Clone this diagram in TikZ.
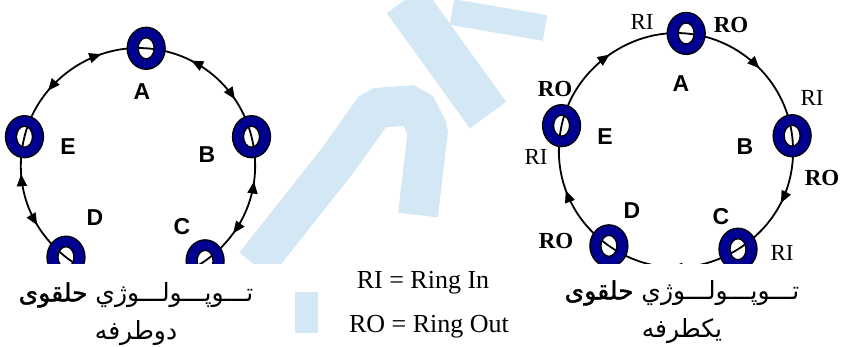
\documentclass[tikz,border=0pt]{standalone}
\usepackage{fontspec}
\setmainfont{Liberation Serif}
\newfontfamily\arialfont{Liberation Sans}
\newfontfamily\farsifont[Script=Arabic]{DejaVu Sans}
\newfontfamily\farsiheavy[Script=Arabic,FakeBold=1.6]{DejaVu Sans}
\TeXXeTstate=1
\usetikzlibrary{shapes.geometric,arrows.meta,decorations.markings,calc}
\pgfdeclarelayer{background}
\pgfsetlayers{background,main}
\definecolor{ringblue}{RGB}{0,0,145}
\definecolor{wmblue}{RGB}{212,231,245}

\begin{document}
\begin{tikzpicture}[x=1pt, y=1pt]
      \tikzset{
	  ringnode/.style={ellipse, draw=black, line width=1.3pt, minimum width=38pt, minimum height=42pt, inner sep=0pt,
	    path picture={\fill[ringblue, even odd rule] (path picture bounding box.center) ellipse [x radius=19pt, y radius=21pt] (path picture bounding box.center) ellipse [x radius=8pt, y radius=10.5pt];
	    \draw[line width=1.3pt] (path picture bounding box.center) ellipse [x radius=8pt, y radius=10.5pt];}},
	  ringline/.style={draw=black, line width=1.8pt, looseness=0.95},
	  twoway/.style={postaction={decorate}, decoration={markings,
	    mark=at position 0.32 with {\arrowreversed{Triangle[length=12pt,width=10pt]}},
	    mark=at position 0.72 with {\arrow{Triangle[length=12pt,width=10pt]}}}},
	  oneway/.style={postaction={decorate}, decoration={markings,
	    mark=at position 0.52 with {\arrow{Triangle[length=12pt,width=10pt]}}}},
	  letter/.style={font=\arialfont\bfseries\fontsize{23}{23}\selectfont, inner sep=0pt},
	  inlabel/.style={font=\fontsize{23}{23}\selectfont, inner sep=0pt},
	  outlabel/.style={font=\bfseries\fontsize{23}{23}\selectfont, inner sep=0pt},
	  legend/.style={font=\fontsize{26}{26}\selectfont, inner sep=0pt},
	  caption/.style={font=\farsifont\fontsize{25}{38}\selectfont, align=center, inner sep=0pt}
      }

      \useasboundingbox (0,0) rectangle (841,-347);
      \coordinate (lO) at (138,-165);
      \coordinate (rO) at (676,-150);

      \begin{scope}
	\clip (0,0) rectangle (841,-264);
	\node[ringnode] (lA) at ($(lO)+(86:117)$) {};
	\node[ringnode] (lB) at ($(lO)+(14:117)$) {};
	\node[ringnode] (lC) at ($(lO)+(-55:117)$) {};
	\node[ringnode] (lD) at ($(lO)+(232:117)$) {};
	\node[ringnode] (lE) at ($(lO)+(166:117)$) {};
	\node[ringnode] (rA) at ($(rO)+(85:117)$) {};
	\node[ringnode] (rB) at ($(rO)+(7:117)$) {};
	\node[ringnode] (rC) at ($(rO)+(-58:117)$) {};
	\node[ringnode] (rD) at ($(rO)+(235:117)$) {};
	\node[ringnode] (rE) at ($(rO)+(168:117)$) {};
      \end{scope}

      \begin{pgfonlayer}{background}
	\begin{scope}
	  \clip (0,0) rectangle (841,-264);
	  \draw[wmblue, line width=40pt, line join=bevel] (255,-265) -- (338,-160) -- (375,-108) -- (415,-105) -- (428,-130) -- (418,-215);
	  \draw[wmblue, line width=45pt] (405,0) -- (488,-115);
	  \draw[wmblue, line width=26pt] (452,-12) -- (545,-28);
	  \draw[ringline, twoway] (lA.center) to[bend left=36] (lB.center);
	  \draw[ringline, twoway] (lB.center) to[bend left=34.5] (lC.center);
	  \draw[ringline] (lC.center) to[bend left=36.5] (lD.center);
	  \draw[ringline, twoway] (lD.center) to[bend left=33] (lE.center);
	  \draw[ringline, twoway] (lE.center) to[bend left=40] (lA.center);
	  \draw[ringline, oneway] (rA.center) to[bend left=39] (rB.center);
	  \draw[ringline, oneway] (rB.center) to[bend left=32.5] (rC.center);
	  \draw[ringline, oneway] (rC.center) to[bend left=33.5] (rD.center);
	  \draw[ringline, oneway] (rD.center) to[bend left=33.5] (rE.center);
	  \draw[ringline, oneway] (rE.center) to[bend left=41.5] (rA.center);
	\end{scope}
	\fill[wmblue] (295,-292) rectangle (318,-333);
      \end{pgfonlayer}

      \node[letter] (lAl) at (142,-92) {A};
      \node[letter] (lBl) at (207,-155) {B};
      \node[letter] (lCl) at (182,-227) {C};
      \node[letter] (lDl) at (95,-218) {D};
      \node[letter] (lEl) at (68,-147) {E};
      \node[letter] (rAl) at (681,-84) {A};
      \node[letter] (rBl) at (745,-147) {B};
      \node[letter] (rCl) at (721,-217) {C};
      \node[letter] (rDl) at (632,-211) {D};
      \node[letter] (rEl) at (605,-137) {E};

      \node[inlabel] (riA) at (642,-22) {RI};
      \node[outlabel] (roA) at (731,-25) {RO};
      \node[inlabel] (riB) at (812,-98) {RI};
      \node[outlabel] (roB) at (822,-178) {RO};
      \node[inlabel] (riC) at (782,-253) {RI};
      \node[outlabel] (roD) at (556,-241) {RO};
      \node[outlabel] (roE) at (555,-89) {RO};
      \node[inlabel] (riE) at (536,-157) {RI};

      \node[legend] (ri) at (423,-283) {RI = Ring In};
      \node[legend] (ro) at (429,-327) {RO = Ring Out};

      \node[caption] (lcap) at (136,-314) {\beginR تـــوپـــولـــوژي {\farsiheavy حلقوی}\endR\\\beginR دوطرفه\endR};
      \node[caption] (rcap) at (682,-312) {\beginR تـــوپـــولـــوژي {\farsiheavy حلقوی}\endR\\\beginR یکطرفه\endR};
\end{tikzpicture}
\end{document}
